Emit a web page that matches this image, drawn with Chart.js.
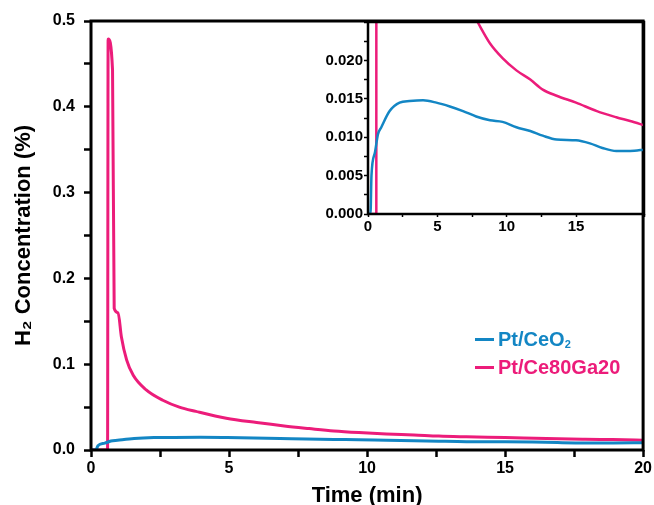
<!DOCTYPE html>
<html>
<head>
<meta charset="utf-8">
<script src="https://cdn.jsdelivr.net/npm/chart.js@4.4.1/dist/chart.umd.min.js"></script>
<style>
  body { margin: 0; background: #fff; }
  #wrap { position: relative; width: 654px; height: 505px; font-family: "Liberation Sans", Arial, sans-serif; }
  #main { position: absolute; left: 0; top: 0; }
  #inset { position: absolute; left: 310px; top: 10px; }
  #legend { position: absolute; left: 475px; top: 328px; font-weight: bold; font-size: 20px; line-height: 23px; }
  #legend div { white-space: nowrap; }
  #legend span.sw { display: inline-block; width: 19px; height: 3px; vertical-align: middle; margin-right: 4px; position: relative; top: -1px; }
  #legend sub { font-size: 11px; vertical-align: -2px; }
</style>
</head>
<body>
<div id="wrap">
  <canvas id="main" width="654" height="505"></canvas>
  <canvas id="inset" width="344" height="225"></canvas>
  <div id="legend"></div>
</div>
<script>
// time (min) and H2 concentration (%)
const ceTime = [0, 0.18, 0.25, 0.5, 0.72, 0.96, 1.56, 2.28, 3.0, 3.97, 4.93, 5.9, 6.85, 7.8, 8.8, 9.7, 10.7, 11.7, 12.6, 13.6, 15.0, 16.0, 16.9, 17.9, 18.9, 20.0];
const ceVals = [0, 0, 0.005, 0.008, 0.0104, 0.0113, 0.0134, 0.0145, 0.0147, 0.0148, 0.0145, 0.014, 0.0134, 0.0127, 0.0122, 0.012, 0.0113, 0.0108, 0.0102, 0.0097, 0.0096, 0.0092, 0.0086, 0.0082, 0.0082, 0.0084];

const gaTime = [0, 0.6, 0.62, 0.78, 0.84, 0.98, 1.1, 1.29, 1.53, 2.0, 2.6, 3.2, 3.8, 4.9, 6.0, 7.0, 7.9, 8.8, 9.7, 10.7, 11.7, 12.6, 13.6, 15.0, 16.5, 17.9, 18.9, 20.0];
const gaVals = [0, 0, 0.479, 0.443, 0.165, 0.160, 0.132, 0.105, 0.087, 0.070, 0.058, 0.050, 0.045, 0.037, 0.032, 0.028, 0.025, 0.0222, 0.0203, 0.0187, 0.0175, 0.0162, 0.0154, 0.0145, 0.0134, 0.0126, 0.0121, 0.0115];

const labels = ['Pt/CeO₂', 'Pt/Ce80Ga20'];
const colors = ['#1386c4', '#ec1c7a'];

const toPts = (xs, ys) => xs.map((x, i) => ({ x: x, y: ys[i] }));

function makeSets(width) {
    return [
        { label: labels[0], data: toPts(ceTime, ceVals), borderColor: colors[0], borderWidth: width, pointRadius: 0, cubicInterpolationMode: 'monotone' },
        { label: labels[1], data: toPts(gaTime, gaVals), borderColor: colors[1], borderWidth: width, pointRadius: 0, cubicInterpolationMode: 'monotone' }
    ];
}

// box around the plot area
const frame = {
    id: 'frame',
    afterDraw(chart, args, opts) {
        const a = chart.chartArea, c = chart.ctx;
        c.save();
        c.strokeStyle = '#000';
        c.lineWidth = opts.width;
        c.strokeRect(a.left, a.top, a.right - a.left, a.bottom - a.top);
        c.restore();
    }
};

const tickFont = { family: 'Liberation Sans', size: 16, weight: 'bold' };
const insetFont = { family: 'Liberation Sans', size: 15, weight: 'bold' };
const titleFont = { family: 'Liberation Sans', size: 22, weight: 'bold' };

new Chart(document.getElementById('main'), {
    type: 'line',
    data: { datasets: makeSets(3) },
    options: {
        responsive: false,
        animation: false,
        layout: { padding: { left: 0, right: 9, top: 21, bottom: 0 } },
        plugins: { legend: { display: false }, tooltip: { enabled: false }, frame: { width: 3 } },
        scales: {
            x: {
                type: 'linear', min: 0, max: 20,
                afterFit: s => { s.height = 55; },
                border: { display: false },
                grid: { drawOnChartArea: false, tickLength: 7, tickWidth: 2.5, tickColor: '#000' },
                ticks: { stepSize: 2.5, autoSkip: false, maxRotation: 0, padding: 2, color: '#000', font: tickFont,
                    callback: v => (v % 5 === 0 ? String(v) : '') },
                title: { display: true, text: 'Time (min)', color: '#000', font: titleFont, padding: { top: 0, bottom: -4 } }
            },
            y: {
                min: 0, max: 0.5,
                afterFit: s => { s.width = 91; },
                border: { display: false },
                grid: { drawOnChartArea: false, tickLength: 7, tickWidth: 2.5, tickColor: '#000' },
                ticks: { stepSize: 0.05, autoSkip: false, padding: 9, color: '#000', font: tickFont,
                    callback: v => (Math.round(v * 100) % 10 === 0 ? v.toFixed(1) : '') },
                title: { display: true, text: 'H₂ Concentration (%)', color: '#000', font: titleFont, padding: { top: 11, bottom: 0 } }
            }
        }
    },
    plugins: [frame]
});

new Chart(document.getElementById('inset'), {
    type: 'line',
    data: { datasets: makeSets(2.5) },
    options: {
        responsive: false,
        animation: false,
        layout: { padding: { left: 0, right: 10, top: 12, bottom: 0 } },
        plugins: { legend: { display: false }, tooltip: { enabled: false }, frame: { width: 2.5 } },
        scales: {
            x: {
                type: 'linear', min: 0, max: 19.9,
                afterFit: s => { s.height = 21; },
                border: { display: false },
                grid: { drawOnChartArea: false, tickLength: 3, tickWidth: 1.5, tickColor: '#000' },
                ticks: { stepSize: 2.5, autoSkip: false, maxRotation: 0, padding: 1, color: '#000', font: insetFont,
                    callback: v => (v % 5 === 0 ? String(v) : '') }
            },
            y: {
                min: 0, max: 0.025,
                afterFit: s => { s.width = 58; },
                border: { display: false },
                grid: { drawOnChartArea: false, tickLength: 4, tickWidth: 1.5, tickColor: '#000' },
                ticks: { stepSize: 0.0025, autoSkip: false, padding: 1, color: '#000', font: insetFont,
                    callback: v => { const k = Math.round(v * 10000); return (k % 50 === 0 && k < 250) ? v.toFixed(3) : ''; } }
            }
        }
    },
    plugins: [frame]
});

// legend as real text
const leg = document.getElementById('legend');
leg.innerHTML =
    '<div style="color:' + colors[0] + '"><span class="sw" style="background:' + colors[0] + '"></span>Pt/CeO<sub>2</sub></div>' +
    '<div style="color:' + colors[1] + '"><span class="sw" style="background:' + colors[1] + '"></span>Pt/Ce80Ga20</div>';
</script>
</body>
</html>
